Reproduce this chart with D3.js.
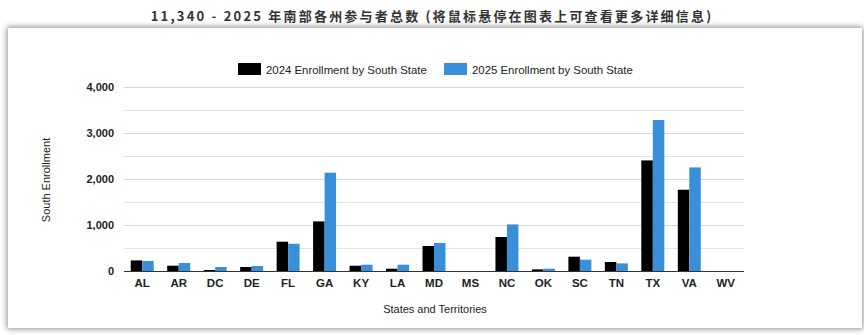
<!DOCTYPE html>
<html>
<head>
<meta charset="utf-8">
<script src="https://cdn.jsdelivr.net/npm/d3@7"></script>
<style>
  html, body { margin: 0; padding: 0; background: #fff; }
  body { width: 864px; height: 335px; position: relative; overflow: hidden; }
  #title { position: absolute; left: 0; top: 6px; width: 864px; text-align: center;
    font-family: "Liberation Sans Narrow", "Noto Sans CJK SC", sans-serif; font-size: 13px;
    letter-spacing: 2.2px; color: #333; font-weight: bold; }
  #card { position: absolute; left: 8px; top: 28px; width: 854px; height: 300px; background: #fff;
    box-shadow: 0 0 6px 1px rgba(0,0,0,0.45); }
  svg { position: absolute; left: 0; top: 0; }
</style>
</head>
<body>
<div id="title">11,340 - 2025 年南部各州参与者总数 (将鼠标悬停在图表上可查看更多详细信息)</div>
<div id="card"></div>
<svg id="chart" width="864" height="335"></svg>
<script>
const categories = ["AL","AR","DC","DE","FL","GA","KY","LA","MD","MS","NC","OK","SC","TN","TX","VA","WV"];
const series2024 = [230,115,22,87,637,1078,115,50,543,0,739,35,311,196,2404,1767,0];
const series2025 = [217,174,87,109,593,2137,137,137,608,0,1013,50,246,166,3282,2252,0];
const seriesNames = ["2024 Enrollment by South State","2025 Enrollment by South State"];
const seriesColors = ["#000000","#3a8fd9"];
const yTicks = [0,1000,2000,3000,4000];
const yGrid = [500,1000,1500,2000,2500,3000,3500,4000];

const svg = d3.select("#chart");
const pLeft = 124, pRight = 744, pTop = 87, pBottom = 271;

const x = d3.scaleBand().domain(categories).range([pLeft, pRight]).paddingInner(0.37).paddingOuter(0.185);
const x1 = d3.scaleBand().domain([0,1]).range([0, x.bandwidth()]);
const y = d3.scaleLinear().domain([0,4000]).range([pBottom, pTop]);

// gridlines
svg.append("g").selectAll("line").data(yGrid).join("line")
  .attr("x1", pLeft).attr("x2", pRight)
  .attr("y1", d => Math.round(y(d)) + 0.5).attr("y2", d => Math.round(y(d)) + 0.5)
  .attr("stroke", d => d % 1000 === 0 ? "#d6d6d6" : "#e3e3e3").attr("stroke-width", 1);

// bars
const data = categories.map((c, i) => ({c, v: [series2024[i], series2025[i]]}));
const g = svg.append("g").selectAll("g").data(data).join("g")
  .attr("transform", d => `translate(${x(d.c)},0)`);
g.selectAll("rect").data(d => d.v.map((v, k) => ({v, k}))).join("rect")
  .attr("x", d => x1(d.k))
  .attr("width", x1.bandwidth())
  .attr("y", d => y(d.v))
  .attr("height", d => pBottom - y(d.v))
  .attr("fill", d => seriesColors[d.k]);

// baseline
svg.append("line").attr("x1", pLeft).attr("x2", pRight)
  .attr("y1", pBottom + 0.5).attr("y2", pBottom + 0.5).attr("stroke", "#333").attr("stroke-width", 1);

// y axis labels
const yAxis = d3.axisLeft(y).tickValues(yTicks).tickFormat(d3.format(",")).tickSize(0).tickPadding(10);
const ya = svg.append("g").attr("transform", `translate(${pLeft},0)`).call(yAxis);
ya.select(".domain").remove();
ya.selectAll("text").attr("font-family", "Arial, 'Liberation Sans', sans-serif")
  .attr("font-size", 11).attr("font-weight", "bold").attr("fill", "#222");

// x axis labels
const xAxis = d3.axisBottom(x).tickSize(0).tickPadding(8);
const xa = svg.append("g").attr("transform", `translate(0,${pBottom})`).call(xAxis);
xa.select(".domain").remove();
xa.selectAll("text").attr("font-family", "Arial, 'Liberation Sans', sans-serif")
  .attr("font-size", 11.5).attr("font-weight", "bold").attr("fill", "#222");

// axis titles
svg.append("text").attr("x", 435).attr("y", 313).attr("text-anchor", "middle")
  .attr("font-family", "Arial, 'Liberation Sans', sans-serif").attr("font-size", 11).attr("fill", "#222")
  .text("States and Territories");
svg.append("text").attr("transform", "translate(50,180) rotate(-90)").attr("text-anchor", "middle")
  .attr("font-family", "Arial, 'Liberation Sans', sans-serif").attr("font-size", 11).attr("fill", "#222")
  .text("South Enrollment");

// legend
const legendX = [238, 444];
const lg = svg.append("g").selectAll("g").data(seriesNames).join("g")
  .attr("transform", (d, i) => `translate(${legendX[i]},63)`);
lg.append("rect").attr("width", 23).attr("height", 12).attr("fill", (d, i) => seriesColors[i]);
lg.append("text").attr("x", 28).attr("y", 10.5)
  .attr("font-family", "Arial, 'Liberation Sans', sans-serif").attr("font-size", 11.4).attr("fill", "#222")
  .text(d => d);
</script>
</body>
</html>
